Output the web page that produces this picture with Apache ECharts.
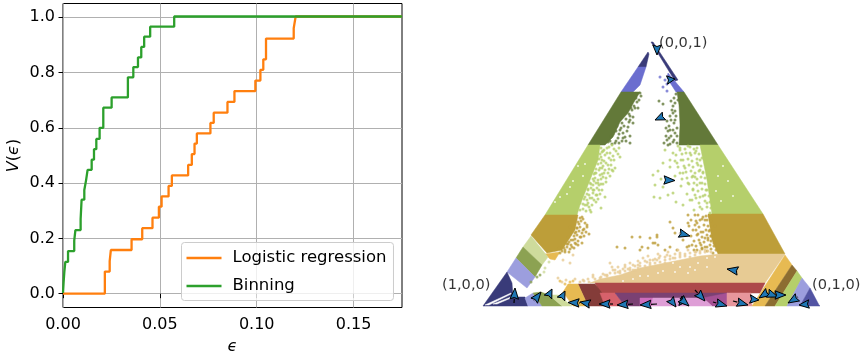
<!DOCTYPE html>
<html><head><meta charset="utf-8">
<style>html,body{margin:0;padding:0;background:#fff}#c{width:864px;height:360px}</style>
<script src="https://cdn.jsdelivr.net/npm/echarts@6/dist/echarts.min.js"></script>
</head><body><div id="c"></div>
<script>
// ---- left panel data ----
const lrEps = [0,0.0216,0.0241,0.0247,0.0354,0.0409,0.0462,0.0495,0.0509,0.0545,0.0562,0.0646,0.0665,0.0679,0.0691,0.0761,0.0778,0.0849,0.0885,0.0993,0.1019,0.1034,0.1048,0.1191,0.1201,0.175];
const lrV   = [0,0.080,0.118,0.158,0.197,0.237,0.275,0.315,0.352,0.390,0.428,0.466,0.505,0.543,0.580,0.618,0.655,0.694,0.733,0.771,0.810,0.848,0.923,0.961,1.003,1.003];
const binEps = [0,0.0003,0.0007,0.0012,0.0026,0.0058,0.0064,0.0091,0.0096,0.0110,0.0119,0.0127,0.0148,0.0160,0.0172,0.0189,0.0208,0.0251,0.0335,0.0363,0.0387,0.0404,0.0419,0.0450,0.0574,0.175];
const binV   = [0.003,0.040,0.080,0.115,0.154,0.192,0.230,0.270,0.340,0.375,0.410,0.448,0.485,0.523,0.560,0.600,0.673,0.710,0.783,0.820,0.855,0.893,0.930,0.966,1.003,1.003];
const xTicks = [0,0.05,0.1,0.15];
const yTicks = [0,0.2,0.4,0.6,0.8,1.0];

// ---- right panel data: simplex plane units (base 337, height 263) ----
const bandColors = ['#393b79','#6b6ecf','#393b79','#6b6ecf','#637939','#637939','#b5cf6b','#b5cf6b','#bd9e39','#bd9e39','#e7cb94','#ad494a','#843c39','#d6616b','#7b4173','#a55194','#ce6dbd','#de9ed6','#e7969c','#e7ba52','#8c6d31','#b5cf6b','#9c9ede','#5254a3','#e7ba52','#cedb9c','#8ca252','#9c9ede','#393b79','#9c9ede','#8ca252','#cedb9c','#e7ba52','#ffffff','#ffffff'];
const bandPolys = [
 [[168,264],[170,264],[195,226],[192,225]],
 [[185,233],[201,214],[193,214],[184,228]],
 [[165,254],[166,252],[163,239],[155,239]],
 [[155,239],[163,239],[157,221],[150,214],[138,214]],
 [[138,214],[157,214],[151,204],[145,193],[137,184],[130,169],[122,161],[105,161]],
 [[194,214],[201,214],[235,161],[196,161],[197,181],[196,201]],
 [[105,161],[117,161],[115,146],[109,131],[103,116],[97,101],[94,91],[62,91]],
 [[217,161],[235,161],[280,92],[229,92],[224,126],[220,146]],
 [[62,91],[95,91],[92,76],[79,56],[64,53],[48,71]],
 [[225,92],[280,92],[302,52],[235,52],[229,66]],
 [[107,23],[117,27],[137,31],[157,38],[177,42],[197,46],[217,50],[237,52],[302,52],[282,23]],
 [[112,23],[282,23],[277,13],[117,13]],
 [[95,22],[112,22],[119,13],[122,0],[105,0]],
 [[117,13],[132,13],[142,0],[122,0]],
 [[132,13],[247,13],[247,8],[157,8],[157,0],[142,0]],
 [[220,8],[245,13],[244,0],[229,0]],
 [[157,8],[170,8],[169,0],[157,0]],
 [[170,8],[220,8],[229,0],[169,0]],
 [[244,13],[268,13],[269,0],[244,0]],
 [[302,51],[309,41],[282,0],[269,0]],
 [[309,41],[314,35],[292,0],[282,0]],
 [[314,35],[319,28],[304,0],[292,0]],
 [[319,28],[327,18],[317,0],[304,0]],
 [[327,18],[336,1],[337,0],[317,0]],
 [[62,52],[77,54],[72,46],[67,47]],
 [[48,70],[40,59],[59,41],[65,49]],
 [[40,59],[33,48],[52,29],[59,41]],
 [[33,48],[24,34],[44,18],[52,29]],
 [[24,34],[0,0],[45,0],[42,9],[30,9],[29,23]],
 [[42,8],[50,13],[59,0],[45,0]],
 [[50,13],[58,14],[66,11],[79,0],[59,0]],
 [[66,11],[75,11],[89,0],[79,0]],
 [[80,14],[85,22],[95,22],[105,0],[90,0]],
 [[2,1],[28,13],[28,12],[6,1]],
 [[10,2],[28,9],[28,8],[14,2]]
];
const bluePts = [[177,229],[180,219],[184,215],[184,222],[182,226]];
const darkGreenPts = [[176,205],[180,202],[157,213],[155,198],[150,189],[147,186],[142,169],[137,176],[145,179],[135,168],[125,164],[132,163],[140,173],[154,204],[149,196],[195,206],[190,193],[192,186],[189,196],[192,173],[190,164],[185,161],[186,180],[188,170],[128,170],[133,175],[146,192],[151,200],[184,166],[187,176],
 [158,210],[156,206],[153,208],[152,198],[148,198],[147,190],[150,183],[146,184],[143,187],[141,180],[144,175],[139,183],[138,178],[136,172],[140,168],[134,180],[133,165],[130,172],[127,165],[129,162],[136,163],[139,165],[143,165],[147,170],[147,163],
 [193,212],[191,208],[188,205],[190,200],[187,190],[191,183],[188,186],[185,175],[183,170],[181,163],[187,162],[183,178],[190,176],[186,168],[194,170],[192,195],[193,190],[184,185],[194,163],[191,166],[194,178],[192,203]];
const lightGreenPts = [[137,149],[129,136],[122,109],[118,98],[108,94],[104,101],[115,123],[120,129],[125,141],[119,146],[112,133],[110,116],[114,111],[127,153],[122,151],[114,153],[132,138],[117,138],[107,123],[102,109],[97,103],[105,116],[115,159],[124,158],[129,161],[119,132],[111,125],[116,116],[109,108],[125,133],[128,146],[120,155],[133,155],[106,99],[113,104],[118,122],[123,124],
 [118,158],[121,156],[126,159],[131,157],[136,158],[117,152],[119,154],[124,153],[130,150],[135,152],[116,147],[118,149],[121,145],[126,148],[131,146],[115,142],[118,143],[120,140],[123,143],[128,141],[113,137],[116,136],[119,138],[122,136],[126,137],[130,135],[111,132],[113,133],[117,131],[121,133],[127,130],[110,127],[112,128],[115,126],[118,127],[123,128],[108,122],[110,121],[113,123],[116,121],[120,122],[105,117],[108,118],[111,116],[114,118],[119,116],[104,112],[106,111],[110,113],[113,111],[117,112],[101,107],[104,106],[107,108],[111,106],[115,107],[100,102],[102,101],[105,103],[109,101],[97,96],[100,97],[103,95],[107,96],
 [170,131],[172,121],[171,109],[177,108],[185,111],[190,113],[180,119],[182,156],[187,146],[197,156],[194,143],[200,133],[210,116],[209,106],[217,99],[224,103],[217,123],[224,116],[207,153],[214,143],[200,146],[190,153],[187,139],[205,123],[212,129],[217,136],[220,133],[207,106],[227,93],[192,130],[198,120],[204,112],[180,143],[175,135],[202,138],[210,130],[213,108],[220,110],[195,160],[205,160],[178,127],[186,125],[193,104],[200,101],[211,96],[219,148],[213,155],
 [214,158],[211,157],[207,159],[202,157],[197,158],[216,152],[212,153],[208,151],[203,153],[199,152],[193,151],[217,146],[214,147],[209,145],[205,147],[198,146],[192,145],[218,140],[215,141],[210,139],[206,141],[201,140],[195,139],[220,134],[216,135],[212,133],[208,135],[203,134],[197,133],[222,128],[218,129],[214,127],[209,129],[204,128],[199,127],[222,122],[219,123],[214,121],[211,123],[206,122],[223,116],[219,117],[215,115],[210,117],[226,110],[222,111],[217,109],[212,111],[227,104],[222,105],[216,103],[228,98],[224,99],[219,97]];
const goldPts = [[104,81],[99,89],[104,79],[97,69],[95,61],[89,59],[82,54],[77,53],[90,66],[85,69],[94,78],[87,79],[149,69],[157,69],[174,71],[167,68],[170,63],[134,59],[142,58],[157,56],[165,58],[175,61],[159,59],[100,76],[92,73],[96,82],[101,70],[84,62],[76,58],[91,58],[86,64],[93,62],[106,72],[99,63],
 [97,88],[100,87],[95,84],[98,85],[102,83],[94,78],[97,79],[101,77],[93,74],[96,75],[99,73],[103,74],[91,70],[94,71],[98,69],[88,66],[92,67],[95,65],[85,62],[88,61],[92,63],[81,58],[84,59],[87,57],[79,55],[82,56],[86,54],
 [205,91],[212,91],[217,86],[187,84],[214,83],[222,86],[190,78],[205,83],[210,76],[220,74],[227,76],[217,63],[224,59],[204,59],[187,59],[174,69],[172,63],[194,56],[214,56],[230,53],[182,56],[192,73],[200,66],[222,68],[228,85],[225,68],[231,63],[219,58],[209,61],[215,72],[228,70],[232,80],[226,90],
 [223,90],[220,89],[215,91],[224,86],[219,87],[213,85],[208,86],[225,80],[221,81],[216,79],[212,81],[206,80],[226,75],[223,76],[218,74],[213,76],[228,70],[224,71],[219,69],[214,71],[208,70],[228,65],[225,66],[221,64],[216,66],[211,65],[231,60],[227,61],[222,59],[218,61],[213,60],[206,60],[233,56],[228,57],[224,55],[219,57],[211,56]];
const tanPts = [[127,43],[142,41],[132,36],[124,31],[137,35],[150,36],[155,41],[184,51],[190,48],[174,46],[164,44],[110,31],[117,28],[197,49],[167,43],[182,43],[207,49],[197,53],[217,53],[90,51],[80,46],[87,43],[75,28],[79,24],[130,36],[142,39],[147,36],[110,29],[100,26],[124,30],[155,38],[170,46],[176,48],[187,47],[202,50],[212,51],[145,37],[135,34],[120,32],[105,27],[92,27],[83,26],[213,54],[225,55],
 [112,27],[118,29],[122,31],[127,33],[132,33],[137,33],[142,35],[147,38],[152,36],[152,40],[157,40],[157,43],[162,40],[162,45],[167,41],[167,46],[172,43],[172,47],[177,44],[177,50],[182,46],[182,49],[187,50],[192,48],[192,52],[197,51],[202,52],[207,53],[212,54],[217,55],[222,54],[222,56],[228,54],[97,24],[101,25],[106,24],[135,39],[147,43],[160,48],[150,41],[140,37],[129,39],[165,50],[175,52],[185,54],[195,56],[205,56],[155,45]];
const amberPts = [[82,22],[87,24],[77,25],[90,25]];
const sagePts = [[57,31],[54,29],[48,24]];
const palePts = [[62,38],[66,44],[61,34]];
const whitePts = [[232,49],[224,48],[215,43],[207,39],[197,39],[190,43],[224,39],[180,35],[165,30],[150,27],[205,33],[87,119],[77,109],[72,104],[100,130],[95,140],[235,130],[245,125],[238,105],[250,110],[212,36],[192,34],[175,33],[157,30],[140,25],[240,140],[233,115],[90,125],[84,112],[102,142]];
// tail u, tail v, tip u, tip v
const arrowData = [[174,261,174,251],[184,226,192,227],[181,190,172,186],[181,126,192,125.5],[196,73,207,70],[255,35,244,37],[31,3,32,18],[51,5,58,14],[65,9,69,17],[78,7,82,15],[97,3,85,3.5],[107,2,97,4],[130,2,116,2],[150,2,134,1],[174,2,157,1],[187,7,193,-1],[200,1,199,10],[197,8,206,0],[212,16,222,5],[230,4,244,0],[250,5,265,1],[267,7,276,6],[285,14,276,8],[284,13,295,9],[292,11,303,11],[315,9,305,3],[326,2,316,1]];
const vertexNames = ['(0,0,1)','(1,0,0)','(0,1,0)'];
const vertexPos = [[176,263],[-41,21],[329,21]];

const FONT = 'DejaVu Sans';
function zipXY(a,b){return a.map((v,i)=>[v,b[i]]);}
function dots(name,pts,color,size){return {type:'scatter',name,xAxisIndex:1,yAxisIndex:1,data:pts,symbol:'circle',symbolSize:size||3,clip:false,z:3,itemStyle:{color},silent:true};}

const chart = echarts.init(document.getElementById('c'),null,{renderer:'canvas'});
chart.setOption({
 animation:false,
 backgroundColor:'#fff',
 textStyle:{fontFamily:FONT},
 grid:[
  {left:63,top:3.5,width:339,height:304,show:true,borderColor:'#000',borderWidth:1,backgroundColor:'transparent'},
  {left:483,top:43,width:337,height:263,show:false}
 ],
 xAxis:[
  {type:'value',gridIndex:0,min:0,max:0.175,
   name:'{i|ϵ}',nameLocation:'middle',nameGap:31,
   nameTextStyle:{rich:{i:{fontFamily:FONT,fontStyle:'italic',fontSize:16,color:'#000'}}},
   axisLine:{show:false},
   axisTick:{show:true,length:4.5,customValues:xTicks,lineStyle:{color:'#000',width:1}},
   axisLabel:{customValues:xTicks,color:'#000',fontSize:16,fontFamily:FONT,margin:9,formatter:v=>v.toFixed(2)},
   splitLine:{show:true,lineStyle:{color:'#b0b0b0',width:1}}},
  {type:'value',gridIndex:1,min:0,max:337,show:false}
 ],
 yAxis:[
  {type:'value',gridIndex:0,min:-0.05,max:1.05,
   name:'{i|V}({i|ϵ})',nameLocation:'middle',nameGap:41,
   nameTextStyle:{fontFamily:FONT,fontSize:16,color:'#000',rich:{i:{fontFamily:FONT,fontStyle:'italic',fontSize:16,color:'#000'}}},
   axisLine:{show:false},
   axisTick:{show:true,length:4.5,customValues:yTicks,lineStyle:{color:'#000',width:1}},
   axisLabel:{customValues:yTicks,color:'#000',fontSize:16,fontFamily:FONT,margin:8,padding:[2,0,0,0],formatter:v=>v.toFixed(1)},
   splitLine:{show:true,lineStyle:{color:'#b0b0b0',width:1}}},
  {type:'value',gridIndex:1,min:0,max:263,show:false}
 ],
 legend:{
  left:181.5,top:242.5,orient:'vertical',itemWidth:35,itemHeight:14,itemGap:11,
  padding:[7,7,6,5],backgroundColor:'rgba(255,255,255,0.8)',borderColor:'#ccc',borderWidth:1,borderRadius:3,
  data:[{name:'Logistic regression',icon:'path://M0 6L35 6L35 8.4L0 8.4Z'},{name:'Binning',icon:'path://M0 6L35 6L35 8.4L0 8.4Z'}],
  textStyle:{fontFamily:FONT,fontSize:16.5,color:'#000',padding:[0,0,0,6]}
 },
 series:[
  {type:'line',name:'Logistic regression',xAxisIndex:0,yAxisIndex:0,step:'end',showSymbol:false,symbol:'none',data:zipXY(lrEps,lrV),lineStyle:{color:'#ff7f0e',width:2.3},itemStyle:{color:'#ff7f0e'},z:2},
  {type:'line',name:'Binning',xAxisIndex:0,yAxisIndex:0,step:'end',showSymbol:false,symbol:'none',data:zipXY(binEps,binV),lineStyle:{color:'#2ca02c',width:2.3},itemStyle:{color:'#2ca02c'},z:2},
  {type:'custom',name:'bands',xAxisIndex:1,yAxisIndex:1,coordinateSystem:'cartesian2d',clip:false,z:2,silent:true,
   data:bandPolys.map((p,i)=>[p[0][0],p[0][1],i]),
   renderItem:function(params,api){
     const i=api.value(2);
     return {type:'polygon',shape:{points:bandPolys[i].map(q=>api.coord(q))},
       style:{fill:bandColors[i],stroke:bandColors[i],lineWidth:0.5}};
   }},
  dots('blue',bluePts,'#6b6ecf'),
  dots('darkgreen',darkGreenPts,'#637939'),
  dots('lightgreen',lightGreenPts,'#b5cf6b'),
  dots('gold',goldPts,'#bd9e39'),
  dots('tan',tanPts,'#e7cb94'),
  dots('amber',amberPts,'#e7ba52'),
  dots('sage',sagePts,'#8ca252'),
  dots('pale',palePts,'#cedb9c'),
  dots('speck',whitePts,'#ffffff',2),
  {type:'custom',name:'arrows',xAxisIndex:1,yAxisIndex:1,coordinateSystem:'cartesian2d',clip:false,z:5,silent:true,
   data:arrowData,
   renderItem:function(params,api){
     const a=api.coord([api.value(0),api.value(1)]), b=api.coord([api.value(2),api.value(3)]);
     const dx=b[0]-a[0],dy=b[1]-a[1],len=Math.hypot(dx,dy)||1,ux=dx/len,uy=dy/len;
     const h=Math.min(len,11),w=4.2;
     const bx=b[0]-ux*h,by=b[1]-uy*h,nx=-uy,ny=ux;
     return {type:'group',children:[
       {type:'line',shape:{x1:a[0],y1:a[1],x2:bx,y2:by},style:{stroke:'#000',lineWidth:1.2}},
       {type:'polygon',shape:{points:[b,[bx+nx*w,by+ny*w],[bx+ux*1.5,by+uy*1.5],[bx-nx*w,by-ny*w]]},
        style:{fill:'#1f77b4',stroke:'#000',lineWidth:1}}
     ]};
   }},
  {type:'scatter',name:'vertices',xAxisIndex:1,yAxisIndex:1,clip:false,symbolSize:0,z:6,silent:true,
   data:vertexPos.map((p,i)=>({value:p,name:vertexNames[i]})),
   label:{show:true,position:'right',distance:0,formatter:'{b}',fontFamily:FONT,fontSize:14.6,color:'#000'}}
 ]
});
</script></body></html>
